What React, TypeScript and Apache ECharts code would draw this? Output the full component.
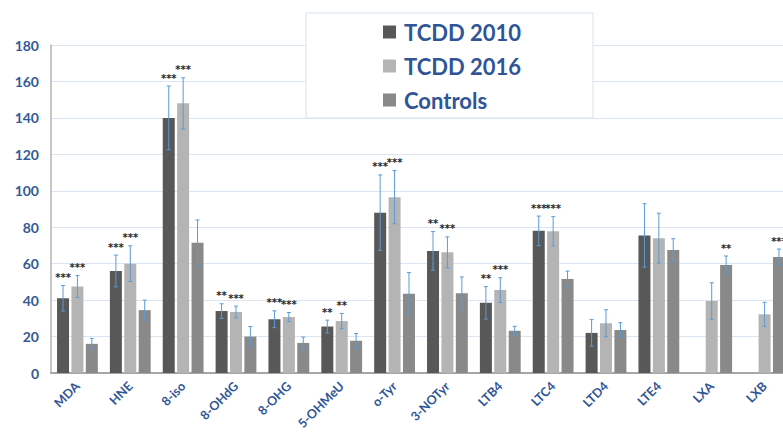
import React, { useEffect, useRef } from "react";
import * as echarts from "echarts";

const categories = ["MDA", "HNE", "8-iso", "8-OHdG", "8-OHG", "5-OHMeU", "o-Tyr", "3-NOTyr", "LTB4", "LTC4", "LTD4", "LTE4", "LXA", "LXB"];
const seriesNames = ["TCDD 2010", "TCDD 2016", "Controls"];
const tcdd2010 = [41, 56, 140, 34, 29.5, 25.5, 88, 67, 38.5, 78, 22, 75.5, null, null];
const tcdd2010Err = [7, 8.7, 17.5, 4, 4.6, 3.5, 20.7, 10.6, 8.9, 8.1, 7.3, 17.4, null, null];
const tcdd2016 = [47.5, 60, 148, 33.5, 30.7, 28.5, 96.5, 66.2, 45.5, 77.8, 27.3, 74, 39.5, 32.2];
const tcdd2016Err = [6, 9.8, 14, 3.2, 2.5, 4.2, 14.6, 8.5, 6.8, 8, 7.4, 13.7, 10, 6.6];
const controls = [16, 34.5, 71.5, 20, 16.5, 17.7, 43.5, 43.7, 23.2, 51.6, 23.6, 67.5, 59.3, 63.7];
const controlsErr = [3, 5.5, 12.5, 5.5, 3.2, 4, 11.6, 9, 2.4, 4.3, 4, 6.2, 4.9, 4.3];
const sig2010 = ["***", "***", "***", "**", "***", "**", "***", "**", "**", "***", "", "", "", ""];
const sig2016 = ["***", "***", "***", "***", "***", "**", "***", "***", "***", "***", "", "", "", ""];
const sigControls = ["", "", "", "", "", "", "", "", "", "", "", "", "**", "***"];
const yTicks = [0, 20, 40, 60, 80, 100, 120, 140, 160, 180];

const colors = ["#585858", "#b4b4b4", "#898989"];
const BAR_W = 12;
const BAR_GAP_PX = 2.4;

export default function App() {
  const ref = useRef<HTMLDivElement>(null);
  useEffect(() => {
    if (!ref.current) return;
    const chart = echarts.init(ref.current, null, { renderer: "svg" });
    const groups = [
      { vals: tcdd2010, errs: tcdd2010Err, sig: sig2010 },
      { vals: tcdd2016, errs: tcdd2016Err, sig: sig2016 },
      { vals: controls, errs: controlsErr, sig: sigControls },
    ];
    const barSeries = groups.map((g, k) => ({
      name: seriesNames[k],
      type: "bar",
      data: g.vals.map((v) => (v == null ? "-" : v)),
      barWidth: BAR_W,
      barGap: "20%",
      itemStyle: { color: colors[k] },
      z: 2,
    }));
    const errSeries = groups.map((g, k) => ({
      name: "err" + k,
      type: "custom",
      z: 4,
      data: categories.map((c, i) => [i, g.vals[i] == null ? NaN : g.vals[i], g.errs[i] == null ? NaN : g.errs[i]]),
      encode: { x: 0, y: 1 },
      renderItem: (params: any, api: any) => {
        const idx = api.value(0);
        const mean = api.value(1);
        const err = api.value(2);
        if (mean == null || isNaN(mean)) return null;
        const top = api.coord([idx, mean + err]);
        const bot = api.coord([idx, mean - err]);
        const x = top[0] + (k - 1) * (BAR_W + BAR_GAP_PX);
        const stroke = { stroke: "#5b9bd5", lineWidth: 1 };
        const label = g.sig[params.dataIndex];
        const children: any[] = [
          { type: "line", shape: { x1: x, y1: top[1], x2: x, y2: bot[1] }, style: stroke },
          { type: "line", shape: { x1: x - 2, y1: top[1], x2: x + 2, y2: top[1] }, style: stroke },
          { type: "line", shape: { x1: x - 2, y1: bot[1], x2: x + 2, y2: bot[1] }, style: stroke },
        ];
        if (label) {
          children.push({
            type: "text",
            x: x,
            y: top[1] - 8,
            style: {
              text: label,
              fill: "#262626",
              font: "bold 10px 'DejaVu Sans'",
              align: "center",
              verticalAlign: "middle",
            },
          });
        }
        return { type: "group", children };
      },
    }));

    chart.setOption({
      animation: false,
      backgroundColor: "#ffffff",
      grid: { left: 51, right: 0, top: 45, bottom: 62, containLabel: false },
      legend: {
        data: seriesNames,
        orient: "vertical",
        left: 383,
        top: 21,
        padding: 0,
        itemGap: 12,
        itemWidth: 13,
        itemHeight: 13,
        icon: "rect",
        z: 6,
        textStyle: {
          color: "#2f5597",
          fontFamily: "Lato",
          fontWeight: "bold",
          fontSize: 22,
          lineHeight: 22,
          padding: [0, 0, 0, 3],
        },
      },
      graphic: [
        {
          type: "rect",
          z: 5,
          shape: { x: 306, y: 13, width: 287, height: 105 },
          style: { fill: "#ffffff", stroke: "#d9e2ef", lineWidth: 1 },
        },
      ],
      xAxis: {
        type: "category",
        data: categories,
        axisLine: { show: true, lineStyle: { color: "#a6a6a6", width: 2 } },
        axisTick: { show: false },
        axisLabel: {
          rotate: 45,
          interval: 0,
          margin: 11,
          color: "#2f5597",
          fontFamily: "Lato",
          fontWeight: "bold",
          fontSize: 12.5,
        },
      },
      yAxis: {
        type: "value",
        min: yTicks[0],
        max: yTicks[yTicks.length - 1],
        interval: yTicks[1] - yTicks[0],
        axisLine: { show: true, lineStyle: { color: "#b3b3b3", width: 1.5 } },
        axisTick: { show: false },
        splitLine: { lineStyle: { color: "#dce6f2", width: 1 } },
        axisLabel: {
          margin: 12,
          color: "#335a96",
          fontFamily: "Lato",
          fontWeight: "bold",
          fontSize: 14,
        },
      },
      series: [...barSeries, ...errSeries],
    });
    return () => chart.dispose();
  }, []);
  return (
    <div style={{ position: "fixed", left: 0, top: 0, width: 783, height: 435, overflow: "hidden", background: "#fff" }}>
      <div ref={ref} style={{ width: 791, height: 435 }} />
    </div>
  );
}
